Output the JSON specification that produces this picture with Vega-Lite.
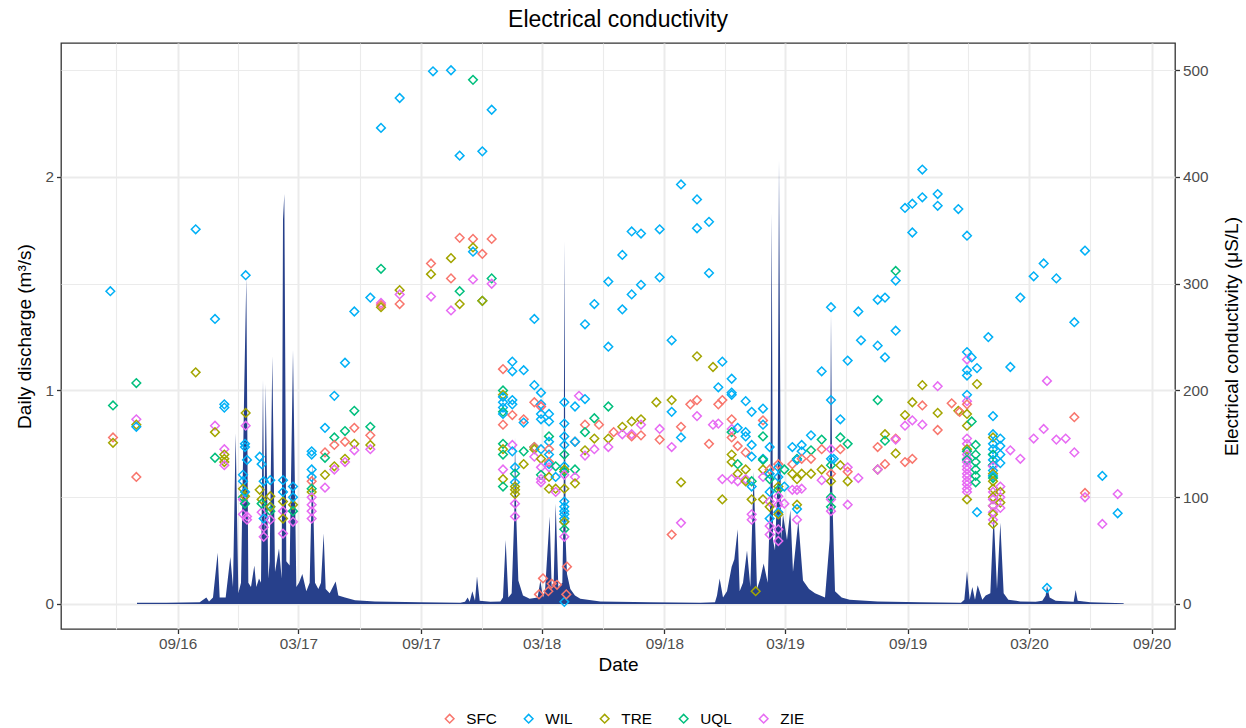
{
"$schema": "https://vega.github.io/schema/vega-lite/v6.json",
"width": 1114, "height": 586,
"autosize": {"type": "none"},
"padding": {"left": 61, "top": 43, "right": 71, "bottom": 99},
"background": "white",
"title": {"text": "Electrical conductivity", "fontSize": 23, "fontWeight": "normal", "anchor": "middle", "offset": 11, "color": "#000000"},
"config": {
 "font": "Liberation Sans",
 "view": {"stroke": "#333333", "strokeWidth": 1.3},
 "axis": {"domain": false, "tickColor": "#333333", "tickSize": 4.5, "tickWidth": 1.3, "labelFontSize": 15.3, "labelColor": "#4D4D4D", "titleFontSize": 19, "titleFontWeight": "normal", "titleColor": "#000000", "gridColor": "#EBEBEB", "labelFlush": false, "labelOverlap": false}
},
"datasets": {
"flow": [
{"d":"2016-07-02","q":0.006},{"d":"2016-08-15","q":0.006},{"d":"2016-10-04","q":0.008},{"d":"2016-10-14","q":0.03},{"d":"2016-10-18","q":0.012},{"d":"2016-10-24","q":0.03},{"d":"2016-10-31","q":0.24},{"d":"2016-11-03","q":0.03},{"d":"2016-11-12","q":0.03},{"d":"2016-11-19","q":0.22},{"d":"2016-11-23","q":0.08},{"d":"2016-11-27","q":0.80},{"d":"2016-12-01","q":0.05},{"d":"2016-12-05","q":0.10},{"d":"2016-12-10","q":1.04},{"d":"2016-12-13","q":1.53},{"d":"2016-12-16","q":0.10},{"d":"2016-12-20","q":0.08},{"d":"2016-12-25","q":0.18},{"d":"2016-12-28","q":0.08},
{"d":"2017-01-01","q":0.12},{"d":"2017-01-04","q":0.10},{"d":"2017-01-07","q":1.05},{"d":"2017-01-09","q":0.30},{"d":"2017-01-11","q":1.03},{"d":"2017-01-15","q":0.12},{"d":"2017-01-17","q":0.20},{"d":"2017-01-21","q":1.16},{"d":"2017-01-25","q":0.15},{"d":"2017-01-31","q":0.26},{"d":"2017-02-04","q":0.12},{"d":"2017-02-06","q":1.80},{"d":"2017-02-08","q":1.92},{"d":"2017-02-11","q":0.20},{"d":"2017-02-16","q":0.18},{"d":"2017-02-21","q":1.19},{"d":"2017-02-26","q":0.08},{"d":"2017-03-02","q":0.10},{"d":"2017-03-07","q":0.14},{"d":"2017-03-13","q":0.06},{"d":"2017-03-18","q":0.10},{"d":"2017-03-22","q":0.66},{"d":"2017-03-26","q":0.10},{"d":"2017-03-31","q":0.07},{"d":"2017-04-04","q":0.10},{"d":"2017-04-08","q":0.33},{"d":"2017-04-11","q":0.07},{"d":"2017-04-17","q":0.05},{"d":"2017-04-26","q":0.105},{"d":"2017-04-30","q":0.04},{"d":"2017-05-10","q":0.03},{"d":"2017-05-25","q":0.018},{"d":"2017-06-24","q":0.012},{"d":"2017-08-31","q":0.008},{"d":"2017-10-30","q":0.006},{"d":"2017-11-06","q":0.01},{"d":"2017-11-10","q":0.03},{"d":"2017-11-13","q":0.01},{"d":"2017-11-17","q":0.06},{"d":"2017-11-21","q":0.015},{"d":"2017-11-24","q":0.13},{"d":"2017-11-28","q":0.015},{"d":"2017-12-14","q":0.01},{"d":"2017-12-29","q":0.012},
{"d":"2018-01-02","q":0.03},{"d":"2018-01-06","q":0.30},{"d":"2018-01-10","q":0.03},{"d":"2018-01-15","q":0.05},{"d":"2018-01-19","q":0.42},{"d":"2018-01-20","q":0.78},{"d":"2018-01-22","q":0.40},{"d":"2018-01-25","q":0.11},{"d":"2018-02-01","q":0.04},{"d":"2018-02-11","q":0.025},{"d":"2018-02-23","q":0.03},{"d":"2018-02-27","q":0.11},{"d":"2018-03-03","q":0.03},{"d":"2018-03-06","q":0.06},{"d":"2018-03-13","q":0.41},{"d":"2018-03-16","q":0.08},{"d":"2018-03-19","q":0.10},{"d":"2018-03-22","q":0.47},{"d":"2018-03-26","q":0.08},{"d":"2018-04-01","q":0.10},{"d":"2018-04-03","q":0.45},{"d":"2018-04-04","q":1.70},{"d":"2018-04-06","q":0.30},{"d":"2018-04-08","q":0.14},{"d":"2018-04-13","q":0.07},{"d":"2018-04-20","q":0.04},{"d":"2018-04-28","q":0.025},{"d":"2018-05-28","q":0.012},{"d":"2018-08-11","q":0.008},{"d":"2018-10-25","q":0.006},{"d":"2018-11-16","q":0.008},{"d":"2018-11-19","q":0.04},{"d":"2018-11-23","q":0.12},{"d":"2018-11-28","q":0.03},{"d":"2018-12-04","q":0.06},{"d":"2018-12-11","q":0.175},{"d":"2018-12-15","q":0.21},{"d":"2018-12-20","q":0.35},{"d":"2018-12-23","q":0.06},{"d":"2018-12-28","q":0.10},
{"d":"2019-01-03","q":0.25},{"d":"2019-01-08","q":0.08},{"d":"2019-01-13","q":0.62},{"d":"2019-01-18","q":0.07},{"d":"2019-01-23","q":0.12},{"d":"2019-01-28","q":0.19},{"d":"2019-02-03","q":0.10},{"d":"2019-02-07","q":0.50},{"d":"2019-02-09","q":1.83},{"d":"2019-02-11","q":0.30},{"d":"2019-02-14","q":0.25},{"d":"2019-02-18","q":0.60},{"d":"2019-02-20","q":2.08},{"d":"2019-02-23","q":0.30},{"d":"2019-02-26","q":0.42},{"d":"2019-03-04","q":0.30},{"d":"2019-03-09","q":0.44},{"d":"2019-03-13","q":0.15},{"d":"2019-03-21","q":0.39},{"d":"2019-03-28","q":0.11},{"d":"2019-04-06","q":0.07},{"d":"2019-04-15","q":0.05},{"d":"2019-04-30","q":0.03},{"d":"2019-05-07","q":0.30},{"d":"2019-05-09","q":1.36},{"d":"2019-05-11","q":0.50},{"d":"2019-05-15","q":0.06},{"d":"2019-05-25","q":0.03},{"d":"2019-06-06","q":0.02},{"d":"2019-07-18","q":0.012},{"d":"2019-09-20","q":0.008},{"d":"2019-11-20","q":0.006},{"d":"2019-11-25","q":0.02},{"d":"2019-11-29","q":0.155},{"d":"2019-12-03","q":0.02},{"d":"2019-12-07","q":0.08},{"d":"2019-12-11","q":0.02},{"d":"2019-12-15","q":0.088},{"d":"2019-12-22","q":0.02},{"d":"2019-12-27","q":0.04},
{"d":"2020-01-03","q":0.05},{"d":"2020-01-08","q":0.42},{"d":"2020-01-13","q":0.07},{"d":"2020-01-18","q":0.38},{"d":"2020-01-23","q":0.05},{"d":"2020-01-30","q":0.02},{"d":"2020-02-17","q":0.012},{"d":"2020-03-11","q":0.01},{"d":"2020-03-21","q":0.015},{"d":"2020-03-26","q":0.04},{"d":"2020-03-28","q":0.085},{"d":"2020-04-01","q":0.03},{"d":"2020-04-10","q":0.015},{"d":"2020-05-07","q":0.01},{"d":"2020-05-10","q":0.065},{"d":"2020-05-13","q":0.015},{"d":"2020-06-01","q":0.008},{"d":"2020-07-21","q":0.004}
],
"ec": [
{"d":"2016-05-23","s":"WIL","v":293},{"d":"2016-05-27","s":"UQL","v":186},{"d":"2016-05-27","s":"SFC","v":156},{"d":"2016-05-27","s":"TRE","v":151},
{"d":"2016-07-01","s":"UQL","v":207},{"d":"2016-07-01","s":"ZIE","v":173},{"d":"2016-07-01","s":"TRE","v":168},{"d":"2016-07-01","s":"WIL","v":166},{"d":"2016-07-01","s":"SFC","v":119},
{"d":"2016-09-28","s":"WIL","v":351},{"d":"2016-09-28","s":"TRE","v":217},
{"d":"2016-10-27","s":"WIL","v":267},{"d":"2016-10-27","s":"ZIE","v":167},{"d":"2016-10-27","s":"TRE","v":161},{"d":"2016-10-27","s":"UQL","v":137},
{"d":"2016-11-10","s":"WIL","v":187},{"d":"2016-11-10","s":"WIL","v":184},{"d":"2016-11-10","s":"ZIE","v":145},{"d":"2016-11-10","s":"TRE","v":140},{"d":"2016-11-10","s":"TRE","v":136},{"d":"2016-11-10","s":"TRE","v":133},{"d":"2016-11-10","s":"ZIE","v":130},
{"d":"2016-12-08","s":"WIL","v":121},{"d":"2016-12-08","s":"WIL","v":115},{"d":"2016-12-08","s":"TRE","v":108},{"d":"2016-12-08","s":"UQL","v":100},{"d":"2016-12-08","s":"ZIE","v":98},{"d":"2016-12-08","s":"ZIE","v":84},
{"d":"2016-12-11","s":"WIL","v":150},{"d":"2016-12-11","s":"WIL","v":147},{"d":"2016-12-11","s":"TRE","v":101},{"d":"2016-12-11","s":"UQL","v":94},{"d":"2016-12-11","s":"WIL","v":105},
{"d":"2016-12-12","s":"WIL","v":308},{"d":"2016-12-12","s":"TRE","v":179},{"d":"2016-12-12","s":"ZIE","v":167},
{"d":"2016-12-14","s":"WIL","v":135},{"d":"2016-12-14","s":"ZIE","v":82},{"d":"2016-12-14","s":"ZIE","v":79},
{"d":"2017-01-02","s":"WIL","v":138},{"d":"2017-01-02","s":"TRE","v":107},
{"d":"2017-01-05","s":"WIL","v":131},{"d":"2017-01-05","s":"ZIE","v":86},{"d":"2017-01-05","s":"TRE","v":98},{"d":"2017-01-05","s":"UQL","v":94},
{"d":"2017-01-08","s":"WIL","v":115},{"d":"2017-01-08","s":"ZIE","v":72},{"d":"2017-01-08","s":"ZIE","v":63},{"d":"2017-01-08","s":"WIL","v":80},
{"d":"2017-01-18","s":"TRE","v":101},{"d":"2017-01-18","s":"UQL","v":87},{"d":"2017-01-18","s":"WIL","v":91},{"d":"2017-01-18","s":"WIL","v":116},{"d":"2017-01-18","s":"TRE","v":91},{"d":"2017-01-18","s":"ZIE","v":79},
{"d":"2017-02-06","s":"WIL","v":116},{"d":"2017-02-06","s":"TRE","v":96},{"d":"2017-02-06","s":"ZIE","v":87},{"d":"2017-02-06","s":"ZIE","v":66},{"d":"2017-02-06","s":"WIL","v":105},{"d":"2017-02-06","s":"TRE","v":80},
{"d":"2017-02-21","s":"WIL","v":110},{"d":"2017-02-21","s":"TRE","v":93},{"d":"2017-02-21","s":"UQL","v":87},{"d":"2017-02-21","s":"ZIE","v":77},{"d":"2017-02-21","s":"WIL","v":100},
{"d":"2017-03-21","s":"WIL","v":143},{"d":"2017-03-21","s":"WIL","v":140},{"d":"2017-03-21","s":"WIL","v":126},{"d":"2017-03-21","s":"WIL","v":119},{"d":"2017-03-21","s":"SFC","v":115},{"d":"2017-03-21","s":"UQL","v":108},{"d":"2017-03-21","s":"TRE","v":105},{"d":"2017-03-21","s":"ZIE","v":100},{"d":"2017-03-21","s":"ZIE","v":93},{"d":"2017-03-21","s":"ZIE","v":87},{"d":"2017-03-21","s":"ZIE","v":80},
{"d":"2017-04-10","s":"WIL","v":165},{"d":"2017-04-10","s":"SFC","v":142},{"d":"2017-04-10","s":"UQL","v":137},{"d":"2017-04-10","s":"TRE","v":121},{"d":"2017-04-10","s":"ZIE","v":109},
{"d":"2017-04-24","s":"WIL","v":195},{"d":"2017-04-24","s":"UQL","v":156},{"d":"2017-04-24","s":"SFC","v":149},{"d":"2017-04-24","s":"TRE","v":129},{"d":"2017-04-24","s":"ZIE","v":126},
{"d":"2017-05-10","s":"WIL","v":226},{"d":"2017-05-10","s":"UQL","v":162},{"d":"2017-05-10","s":"SFC","v":152},{"d":"2017-05-10","s":"TRE","v":136},{"d":"2017-05-10","s":"ZIE","v":133},
{"d":"2017-05-24","s":"WIL","v":274},{"d":"2017-05-24","s":"UQL","v":181},{"d":"2017-05-24","s":"SFC","v":165},{"d":"2017-05-24","s":"TRE","v":150},{"d":"2017-05-24","s":"ZIE","v":144},
{"d":"2017-06-17","s":"WIL","v":287},{"d":"2017-06-17","s":"UQL","v":166},{"d":"2017-06-17","s":"SFC","v":158},{"d":"2017-06-17","s":"TRE","v":149},{"d":"2017-06-17","s":"ZIE","v":145},
{"d":"2017-07-03","s":"WIL","v":446},{"d":"2017-07-03","s":"UQL","v":314},{"d":"2017-07-03","s":"ZIE","v":282},{"d":"2017-07-03","s":"SFC","v":280},{"d":"2017-07-03","s":"TRE","v":278},
{"d":"2017-07-31","s":"WIL","v":474},{"d":"2017-07-31","s":"TRE","v":294},{"d":"2017-07-31","s":"ZIE","v":290},{"d":"2017-07-31","s":"SFC","v":281},
{"d":"2017-09-16","s":"SFC","v":319},{"d":"2017-09-16","s":"TRE","v":309},{"d":"2017-09-16","s":"ZIE","v":288},{"d":"2017-09-19","s":"WIL","v":499},
{"d":"2017-10-16","s":"WIL","v":500},{"d":"2017-10-16","s":"TRE","v":324},{"d":"2017-10-16","s":"SFC","v":305},{"d":"2017-10-16","s":"ZIE","v":275},
{"d":"2017-10-29","s":"WIL","v":420},{"d":"2017-10-29","s":"SFC","v":343},{"d":"2017-10-29","s":"UQL","v":293},{"d":"2017-10-29","s":"TRE","v":281},
{"d":"2017-11-18","s":"UQL","v":491},{"d":"2017-11-18","s":"SFC","v":342},{"d":"2017-11-18","s":"TRE","v":334},{"d":"2017-11-18","s":"WIL","v":330},{"d":"2017-11-18","s":"ZIE","v":304},
{"d":"2017-12-02","s":"WIL","v":424},{"d":"2017-12-02","s":"SFC","v":328},{"d":"2017-12-02","s":"UQL","v":284},{"d":"2017-12-02","s":"TRE","v":284},
{"d":"2017-12-16","s":"WIL","v":463},{"d":"2017-12-16","s":"SFC","v":342},{"d":"2017-12-16","s":"UQL","v":305},{"d":"2017-12-16","s":"ZIE","v":300},
{"d":"2018-01-02","s":"SFC","v":220},{"d":"2018-01-02","s":"UQL","v":200},{"d":"2018-01-02","s":"TRE","v":196},{"d":"2018-01-02","s":"WIL","v":194},{"d":"2018-01-02","s":"WIL","v":189},{"d":"2018-01-02","s":"WIL","v":184},{"d":"2018-01-02","s":"UQL","v":180},{"d":"2018-01-02","s":"WIL","v":178},{"d":"2018-01-02","s":"SFC","v":168},{"d":"2018-01-02","s":"UQL","v":150},{"d":"2018-01-02","s":"TRE","v":145},{"d":"2018-01-02","s":"UQL","v":140},{"d":"2018-01-02","s":"ZIE","v":126},{"d":"2018-01-02","s":"TRE","v":117},{"d":"2018-01-02","s":"UQL","v":110},
{"d":"2018-01-16","s":"WIL","v":227},{"d":"2018-01-16","s":"WIL","v":218},{"d":"2018-01-16","s":"WIL","v":191},{"d":"2018-01-16","s":"WIL","v":187},{"d":"2018-01-16","s":"SFC","v":177},{"d":"2018-01-16","s":"ZIE","v":149},{"d":"2018-01-16","s":"WIL","v":143},
{"d":"2018-01-20","s":"WIL","v":128},{"d":"2018-01-20","s":"UQL","v":122},{"d":"2018-01-20","s":"WIL","v":114},{"d":"2018-01-20","s":"TRE","v":110},{"d":"2018-01-20","s":"TRE","v":107},{"d":"2018-01-20","s":"TRE","v":103},{"d":"2018-01-20","s":"ZIE","v":94},{"d":"2018-01-20","s":"ZIE","v":82},
{"d":"2018-02-02","s":"WIL","v":219},{"d":"2018-02-02","s":"SFC","v":173},{"d":"2018-02-02","s":"WIL","v":170},{"d":"2018-02-02","s":"UQL","v":143},{"d":"2018-02-02","s":"TRE","v":131},
{"d":"2018-02-18","s":"WIL","v":267},{"d":"2018-02-18","s":"WIL","v":205},{"d":"2018-02-18","s":"SFC","v":189},{"d":"2018-02-18","s":"UQL","v":147},{"d":"2018-02-18","s":"SFC","v":147},{"d":"2018-02-18","s":"TRE","v":145},{"d":"2018-02-18","s":"ZIE","v":138},
{"d":"2018-02-25","s":"SFC","v":9},
{"d":"2018-02-28","s":"WIL","v":198},{"d":"2018-02-28","s":"WIL","v":187},{"d":"2018-02-28","s":"ZIE","v":185},{"d":"2018-02-28","s":"SFC","v":185},{"d":"2018-02-28","s":"WIL","v":178},{"d":"2018-02-28","s":"WIL","v":173},{"d":"2018-02-28","s":"WIL","v":145},{"d":"2018-02-28","s":"TRE","v":136},{"d":"2018-02-28","s":"ZIE","v":128},{"d":"2018-02-28","s":"UQL","v":121},{"d":"2018-02-28","s":"ZIE","v":117},{"d":"2018-02-28","s":"ZIE","v":114},
{"d":"2018-03-03","s":"SFC","v":24},{"d":"2018-03-11","s":"SFC","v":12},
{"d":"2018-03-12","s":"WIL","v":178},{"d":"2018-03-12","s":"WIL","v":171},{"d":"2018-03-12","s":"UQL","v":157},{"d":"2018-03-12","s":"WIL","v":152},{"d":"2018-03-12","s":"SFC","v":145},{"d":"2018-03-12","s":"WIL","v":140},{"d":"2018-03-12","s":"SFC","v":133},{"d":"2018-03-12","s":"WIL","v":131},{"d":"2018-03-12","s":"ZIE","v":128},{"d":"2018-03-12","s":"TRE","v":119},{"d":"2018-03-12","s":"TRE","v":108},
{"d":"2018-03-16","s":"SFC","v":19},
{"d":"2018-03-22","s":"UQL","v":129},{"d":"2018-03-22","s":"WIL","v":119},{"d":"2018-03-22","s":"TRE","v":108},{"d":"2018-03-22","s":"ZIE","v":105},
{"d":"2018-03-24","s":"SFC","v":18},
{"d":"2018-04-04","s":"WIL","v":189},{"d":"2018-04-04","s":"WIL","v":169},{"d":"2018-04-04","s":"WIL","v":157},{"d":"2018-04-04","s":"WIL","v":149},{"d":"2018-04-04","s":"UQL","v":140},{"d":"2018-04-04","s":"WIL","v":129},{"d":"2018-04-04","s":"TRE","v":126},{"d":"2018-04-04","s":"UQL","v":124},{"d":"2018-04-04","s":"ZIE","v":121},{"d":"2018-04-04","s":"TRE","v":108},{"d":"2018-04-04","s":"WIL","v":96},{"d":"2018-04-04","s":"WIL","v":91},{"d":"2018-04-04","s":"WIL","v":87},{"d":"2018-04-04","s":"WIL","v":84},{"d":"2018-04-04","s":"WIL","v":80},{"d":"2018-04-04","s":"WIL","v":77},{"d":"2018-04-04","s":"TRE","v":77},{"d":"2018-04-04","s":"UQL","v":70},{"d":"2018-04-04","s":"ZIE","v":63},{"d":"2018-04-04","s":"WIL","v":2},
{"d":"2018-04-07","s":"SFC","v":9},{"d":"2018-04-08","s":"SFC","v":35},
{"d":"2018-04-20","s":"WIL","v":185},{"d":"2018-04-20","s":"SFC","v":152},{"d":"2018-04-20","s":"WIL","v":152},{"d":"2018-04-20","s":"UQL","v":126},{"d":"2018-04-20","s":"ZIE","v":119},{"d":"2018-04-20","s":"TRE","v":113},
{"d":"2018-04-26","s":"ZIE","v":195},
{"d":"2018-05-05","s":"WIL","v":262},{"d":"2018-05-05","s":"WIL","v":192},{"d":"2018-05-05","s":"SFC","v":168},{"d":"2018-05-05","s":"UQL","v":161},{"d":"2018-05-05","s":"TRE","v":144},{"d":"2018-05-05","s":"ZIE","v":139},
{"d":"2018-05-19","s":"WIL","v":281},{"d":"2018-05-19","s":"UQL","v":174},{"d":"2018-05-19","s":"TRE","v":155},{"d":"2018-05-19","s":"ZIE","v":145},{"d":"2018-05-26","s":"SFC","v":168},
{"d":"2018-06-09","s":"WIL","v":302},{"d":"2018-06-09","s":"WIL","v":241},{"d":"2018-06-09","s":"UQL","v":185},{"d":"2018-06-09","s":"TRE","v":155},{"d":"2018-06-09","s":"ZIE","v":147},{"d":"2018-06-17","s":"SFC","v":161},
{"d":"2018-06-30","s":"WIL","v":327},{"d":"2018-06-30","s":"WIL","v":276},{"d":"2018-06-30","s":"TRE","v":166},{"d":"2018-06-30","s":"ZIE","v":159},
{"d":"2018-07-14","s":"WIL","v":349},{"d":"2018-07-14","s":"WIL","v":290},{"d":"2018-07-14","s":"TRE","v":171},{"d":"2018-07-14","s":"ZIE","v":159},{"d":"2018-07-14","s":"SFC","v":157},
{"d":"2018-07-28","s":"WIL","v":347},{"d":"2018-07-28","s":"WIL","v":299},{"d":"2018-07-28","s":"TRE","v":173},{"d":"2018-07-28","s":"ZIE","v":168},{"d":"2018-07-28","s":"SFC","v":158},
{"d":"2018-08-20","s":"TRE","v":189},
{"d":"2018-08-25","s":"WIL","v":351},{"d":"2018-08-25","s":"WIL","v":306},{"d":"2018-08-25","s":"ZIE","v":164},{"d":"2018-08-25","s":"SFC","v":154},
{"d":"2018-09-12","s":"WIL","v":247},{"d":"2018-09-12","s":"TRE","v":191},{"d":"2018-09-12","s":"WIL","v":180},{"d":"2018-09-12","s":"ZIE","v":147},{"d":"2018-09-12","s":"SFC","v":65},
{"d":"2018-09-26","s":"WIL","v":393},{"d":"2018-09-26","s":"SFC","v":166},{"d":"2018-09-26","s":"WIL","v":156},{"d":"2018-09-26","s":"TRE","v":114},{"d":"2018-09-26","s":"ZIE","v":76},
{"d":"2018-10-10","s":"SFC","v":187},
{"d":"2018-10-20","s":"WIL","v":379},{"d":"2018-10-20","s":"WIL","v":352},{"d":"2018-10-20","s":"TRE","v":232},{"d":"2018-10-20","s":"SFC","v":191},{"d":"2018-10-20","s":"ZIE","v":176},
{"d":"2018-11-07","s":"WIL","v":358},{"d":"2018-11-07","s":"WIL","v":310},{"d":"2018-11-07","s":"SFC","v":150},
{"d":"2018-11-13","s":"TRE","v":222},{"d":"2018-11-13","s":"ZIE","v":168},
{"d":"2018-11-21","s":"WIL","v":203},{"d":"2018-11-21","s":"SFC","v":187},{"d":"2018-11-21","s":"ZIE","v":169},
{"d":"2018-11-27","s":"WIL","v":227},{"d":"2018-11-27","s":"SFC","v":191},{"d":"2018-11-27","s":"ZIE","v":117},{"d":"2018-11-27","s":"TRE","v":98},
{"d":"2018-12-11","s":"WIL","v":211},{"d":"2018-12-11","s":"WIL","v":198},{"d":"2018-12-11","s":"WIL","v":196},{"d":"2018-12-11","s":"SFC","v":173},{"d":"2018-12-11","s":"ZIE","v":164},{"d":"2018-12-11","s":"UQL","v":161},{"d":"2018-12-11","s":"SFC","v":156},{"d":"2018-12-11","s":"TRE","v":140},{"d":"2018-12-11","s":"TRE","v":133},{"d":"2018-12-11","s":"ZIE","v":117},
{"d":"2018-12-20","s":"WIL","v":165},{"d":"2018-12-20","s":"SFC","v":148},{"d":"2018-12-20","s":"UQL","v":131},{"d":"2018-12-20","s":"TRE","v":122},{"d":"2018-12-20","s":"ZIE","v":115},
{"d":"2019-01-01","s":"WIL","v":190},{"d":"2019-01-01","s":"WIL","v":161},{"d":"2019-01-01","s":"WIL","v":157},{"d":"2019-01-01","s":"SFC","v":142},{"d":"2019-01-01","s":"TRE","v":126},{"d":"2019-01-01","s":"ZIE","v":117},{"d":"2019-01-01","s":"TRE","v":115},
{"d":"2019-01-10","s":"WIL","v":180},{"d":"2019-01-10","s":"WIL","v":149},{"d":"2019-01-10","s":"WIL","v":138},{"d":"2019-01-10","s":"UQL","v":115},{"d":"2019-01-10","s":"WIL","v":110},{"d":"2019-01-10","s":"TRE","v":98},{"d":"2019-01-10","s":"ZIE","v":84},{"d":"2019-01-10","s":"ZIE","v":79},
{"d":"2019-01-16","s":"TRE","v":12},
{"d":"2019-01-27","s":"WIL","v":183},{"d":"2019-01-27","s":"SFC","v":172},{"d":"2019-01-27","s":"WIL","v":168},{"d":"2019-01-27","s":"UQL","v":157},{"d":"2019-01-27","s":"WIL","v":136},{"d":"2019-01-27","s":"UQL","v":135},{"d":"2019-01-27","s":"TRE","v":126},{"d":"2019-01-27","s":"ZIE","v":119},{"d":"2019-01-27","s":"TRE","v":98},
{"d":"2019-02-06","s":"WIL","v":147},{"d":"2019-02-06","s":"SFC","v":126},{"d":"2019-02-06","s":"WIL","v":122},{"d":"2019-02-06","s":"UQL","v":117},{"d":"2019-02-06","s":"WIL","v":105},{"d":"2019-02-06","s":"ZIE","v":96},{"d":"2019-02-06","s":"TRE","v":91},{"d":"2019-02-06","s":"WIL","v":80},{"d":"2019-02-06","s":"ZIE","v":73},{"d":"2019-02-06","s":"ZIE","v":65},
{"d":"2019-02-19","s":"SFC","v":131},{"d":"2019-02-19","s":"WIL","v":128},{"d":"2019-02-19","s":"WIL","v":119},{"d":"2019-02-19","s":"TRE","v":110},{"d":"2019-02-19","s":"UQL","v":107},{"d":"2019-02-19","s":"ZIE","v":101},{"d":"2019-02-19","s":"ZIE","v":93},{"d":"2019-02-19","s":"WIL","v":86},{"d":"2019-02-19","s":"TRE","v":84},{"d":"2019-02-19","s":"ZIE","v":70},{"d":"2019-02-19","s":"ZIE","v":59},
{"d":"2019-02-28","s":"UQL","v":126},{"d":"2019-02-28","s":"WIL","v":110},{"d":"2019-02-28","s":"ZIE","v":94},
{"d":"2019-03-12","s":"WIL","v":147},{"d":"2019-03-12","s":"SFC","v":131},{"d":"2019-03-12","s":"TRE","v":122},{"d":"2019-03-12","s":"ZIE","v":107},
{"d":"2019-03-19","s":"UQL","v":136},{"d":"2019-03-19","s":"WIL","v":135},{"d":"2019-03-19","s":"TRE","v":117},{"d":"2019-03-19","s":"ZIE","v":107},{"d":"2019-03-19","s":"TRE","v":93},{"d":"2019-03-19","s":"WIL","v":89},{"d":"2019-03-19","s":"ZIE","v":79},
{"d":"2019-03-26","s":"WIL","v":149},{"d":"2019-03-26","s":"WIL","v":143},{"d":"2019-03-26","s":"SFC","v":136},{"d":"2019-03-26","s":"TRE","v":122},{"d":"2019-03-26","s":"ZIE","v":108},
{"d":"2019-04-09","s":"WIL","v":158},{"d":"2019-04-09","s":"UQL","v":144},{"d":"2019-04-09","s":"SFC","v":136},{"d":"2019-04-09","s":"TRE","v":122},
{"d":"2019-04-25","s":"WIL","v":218},{"d":"2019-04-25","s":"UQL","v":154},{"d":"2019-04-25","s":"SFC","v":145},{"d":"2019-04-25","s":"TRE","v":126},{"d":"2019-04-25","s":"ZIE","v":116},
{"d":"2019-05-09","s":"WIL","v":278},{"d":"2019-05-09","s":"WIL","v":191},{"d":"2019-05-09","s":"ZIE","v":145},{"d":"2019-05-09","s":"WIL","v":136},{"d":"2019-05-09","s":"UQL","v":130},{"d":"2019-05-09","s":"SFC","v":122},{"d":"2019-05-09","s":"TRE","v":115},{"d":"2019-05-09","s":"UQL","v":100},{"d":"2019-05-09","s":"ZIE","v":98},{"d":"2019-05-09","s":"UQL","v":91},{"d":"2019-05-09","s":"ZIE","v":87},
{"d":"2019-05-13","s":"WIL","v":136},
{"d":"2019-05-23","s":"WIL","v":173},{"d":"2019-05-23","s":"UQL","v":156},{"d":"2019-05-23","s":"SFC","v":145},{"d":"2019-05-23","s":"TRE","v":130},
{"d":"2019-06-03","s":"WIL","v":228},{"d":"2019-06-03","s":"UQL","v":150},{"d":"2019-06-03","s":"ZIE","v":128},{"d":"2019-06-03","s":"SFC","v":124},{"d":"2019-06-03","s":"TRE","v":115},{"d":"2019-06-03","s":"ZIE","v":93},
{"d":"2019-06-19","s":"WIL","v":274},{"d":"2019-06-19","s":"ZIE","v":118},{"d":"2019-06-23","s":"WIL","v":247},
{"d":"2019-07-18","s":"WIL","v":285},{"d":"2019-07-18","s":"WIL","v":242},{"d":"2019-07-18","s":"UQL","v":191},{"d":"2019-07-18","s":"SFC","v":147},{"d":"2019-07-18","s":"TRE","v":126},{"d":"2019-07-18","s":"ZIE","v":126},
{"d":"2019-07-29","s":"WIL","v":287},{"d":"2019-07-29","s":"WIL","v":231},{"d":"2019-07-29","s":"TRE","v":159},{"d":"2019-07-29","s":"UQL","v":153},{"d":"2019-07-29","s":"SFC","v":131},
{"d":"2019-08-14","s":"UQL","v":312},{"d":"2019-08-14","s":"WIL","v":303},{"d":"2019-08-14","s":"WIL","v":256},{"d":"2019-08-14","s":"SFC","v":155},{"d":"2019-08-14","s":"ZIE","v":154},{"d":"2019-08-14","s":"TRE","v":141},
{"d":"2019-08-28","s":"WIL","v":371},{"d":"2019-08-28","s":"TRE","v":177},{"d":"2019-08-28","s":"ZIE","v":167},{"d":"2019-08-28","s":"SFC","v":133},
{"d":"2019-09-08","s":"WIL","v":375},{"d":"2019-09-08","s":"WIL","v":348},{"d":"2019-09-08","s":"TRE","v":189},{"d":"2019-09-08","s":"ZIE","v":172},{"d":"2019-09-08","s":"SFC","v":136},
{"d":"2019-09-23","s":"WIL","v":407},{"d":"2019-09-23","s":"WIL","v":381},{"d":"2019-09-23","s":"TRE","v":205},{"d":"2019-09-23","s":"SFC","v":186},{"d":"2019-09-23","s":"ZIE","v":168},
{"d":"2019-10-16","s":"WIL","v":384},{"d":"2019-10-16","s":"WIL","v":373},{"d":"2019-10-16","s":"ZIE","v":204},{"d":"2019-10-16","s":"TRE","v":179},{"d":"2019-10-16","s":"SFC","v":163},
{"d":"2019-11-06","s":"SFC","v":188},{"d":"2019-11-16","s":"WIL","v":370},{"d":"2019-11-16","s":"TRE","v":181},{"d":"2019-11-18","s":"SFC","v":180},
{"d":"2019-11-29","s":"WIL","v":345},{"d":"2019-11-29","s":"WIL","v":236},{"d":"2019-11-29","s":"ZIE","v":229},{"d":"2019-11-29","s":"WIL","v":219},{"d":"2019-11-29","s":"WIL","v":214},{"d":"2019-11-29","s":"WIL","v":196},{"d":"2019-11-29","s":"ZIE","v":190},{"d":"2019-11-29","s":"SFC","v":187},{"d":"2019-11-29","s":"TRE","v":178},{"d":"2019-11-29","s":"TRE","v":167},{"d":"2019-11-29","s":"ZIE","v":155},{"d":"2019-11-29","s":"ZIE","v":150},{"d":"2019-11-29","s":"TRE","v":145},{"d":"2019-11-29","s":"UQL","v":143},{"d":"2019-11-29","s":"ZIE","v":140},{"d":"2019-11-29","s":"ZIE","v":136},{"d":"2019-11-29","s":"UQL","v":135},{"d":"2019-11-29","s":"ZIE","v":133},{"d":"2019-11-29","s":"ZIE","v":129},{"d":"2019-11-29","s":"ZIE","v":126},{"d":"2019-11-29","s":"ZIE","v":122},{"d":"2019-11-29","s":"ZIE","v":119},{"d":"2019-11-29","s":"ZIE","v":115},{"d":"2019-11-29","s":"ZIE","v":112},{"d":"2019-11-29","s":"ZIE","v":108},{"d":"2019-11-29","s":"ZIE","v":105},{"d":"2019-11-29","s":"TRE","v":98},
{"d":"2019-12-06","s":"WIL","v":231},{"d":"2019-12-06","s":"UQL","v":171},
{"d":"2019-12-12","s":"UQL","v":149},{"d":"2019-12-12","s":"UQL","v":140},{"d":"2019-12-12","s":"UQL","v":133},{"d":"2019-12-12","s":"UQL","v":126},{"d":"2019-12-12","s":"UQL","v":120},{"d":"2019-12-12","s":"UQL","v":114},
{"d":"2019-12-14","s":"WIL","v":221},{"d":"2019-12-14","s":"TRE","v":206},{"d":"2019-12-14","s":"WIL","v":86},
{"d":"2019-12-31","s":"WIL","v":250},
{"d":"2020-01-07","s":"WIL","v":176},{"d":"2020-01-07","s":"WIL","v":159},{"d":"2020-01-07","s":"TRE","v":156},{"d":"2020-01-07","s":"WIL","v":150},{"d":"2020-01-07","s":"WIL","v":145},{"d":"2020-01-07","s":"WIL","v":140},{"d":"2020-01-07","s":"UQL","v":140},{"d":"2020-01-07","s":"WIL","v":135},{"d":"2020-01-07","s":"WIL","v":130},{"d":"2020-01-07","s":"UQL","v":130},{"d":"2020-01-07","s":"ZIE","v":129},{"d":"2020-01-07","s":"WIL","v":125},{"d":"2020-01-07","s":"TRE","v":122},{"d":"2020-01-07","s":"WIL","v":120},{"d":"2020-01-07","s":"UQL","v":118},{"d":"2020-01-07","s":"TRE","v":115},{"d":"2020-01-07","s":"TRE","v":108},{"d":"2020-01-07","s":"ZIE","v":105},{"d":"2020-01-07","s":"TRE","v":100},{"d":"2020-01-07","s":"ZIE","v":98},{"d":"2020-01-07","s":"TRE","v":92},{"d":"2020-01-07","s":"ZIE","v":92},{"d":"2020-01-07","s":"ZIE","v":86},{"d":"2020-01-07","s":"TRE","v":84},{"d":"2020-01-07","s":"ZIE","v":79},{"d":"2020-01-07","s":"TRE","v":75},
{"d":"2020-01-18","s":"WIL","v":155},{"d":"2020-01-18","s":"WIL","v":148},{"d":"2020-01-18","s":"WIL","v":140},{"d":"2020-01-18","s":"WIL","v":132},{"d":"2020-01-18","s":"ZIE","v":110},{"d":"2020-01-18","s":"TRE","v":105},{"d":"2020-01-18","s":"ZIE","v":100},{"d":"2020-01-18","s":"TRE","v":95},{"d":"2020-01-18","s":"ZIE","v":90},
{"d":"2020-02-02","s":"WIL","v":222},{"d":"2020-02-02","s":"ZIE","v":144},
{"d":"2020-02-17","s":"WIL","v":287},{"d":"2020-02-17","s":"ZIE","v":136},
{"d":"2020-03-08","s":"WIL","v":307},{"d":"2020-03-08","s":"ZIE","v":155},
{"d":"2020-03-23","s":"WIL","v":319},{"d":"2020-03-23","s":"ZIE","v":164},
{"d":"2020-03-28","s":"ZIE","v":209},{"d":"2020-03-28","s":"WIL","v":15},
{"d":"2020-04-11","s":"WIL","v":305},{"d":"2020-04-11","s":"ZIE","v":154},
{"d":"2020-04-25","s":"ZIE","v":155},
{"d":"2020-05-08","s":"WIL","v":264},{"d":"2020-05-08","s":"SFC","v":175},{"d":"2020-05-08","s":"ZIE","v":142},
{"d":"2020-05-24","s":"WIL","v":331},{"d":"2020-05-24","s":"SFC","v":104},{"d":"2020-05-24","s":"ZIE","v":100},
{"d":"2020-06-19","s":"WIL","v":120},{"d":"2020-06-19","s":"ZIE","v":75},
{"d":"2020-07-12","s":"WIL","v":85},{"d":"2020-07-12","s":"ZIE","v":103}
]
},
"layer": [
{
 "data": {"name": "flow"},
 "mark": {"type": "area", "color": "#27408B", "interpolate": "linear"},
 "encoding": {
  "x": {"field": "d", "type": "temporal",
   "scale": {"type": "utc", "domain": [{"year": 2016, "month": 3, "date": 10, "utc": true}, {"year": 2020, "month": 10, "date": 6, "utc": true}]},
   "axis": {"title": "Date", "format": "%m/%y", "grid": true, "gridWidth": 2, "labelPadding": 3, "titlePadding": 4,
    "values": [{"year": 2016, "month": 9, "date": 1, "utc": true}, {"year": 2017, "month": 3, "date": 1, "utc": true}, {"year": 2017, "month": 9, "date": 1, "utc": true}, {"year": 2018, "month": 3, "date": 1, "utc": true}, {"year": 2018, "month": 9, "date": 1, "utc": true}, {"year": 2019, "month": 3, "date": 1, "utc": true}, {"year": 2019, "month": 9, "date": 1, "utc": true}, {"year": 2020, "month": 3, "date": 1, "utc": true}, {"year": 2020, "month": 9, "date": 1, "utc": true}]}},
  "y": {"field": "q", "type": "quantitative",
   "scale": {"domain": [-0.1171, 2.6276], "nice": false, "zero": false},
   "axis": {"title": "Daily discharge (m³/s)", "values": [0, 1, 2], "grid": true, "gridWidth": 2, "labelPadding": 3, "titlePadding": 10}},
  "y2": {"datum": 0}
 }
},
{
 "data": {"name": "ec"},
 "mark": {"type": "point", "shape": "diamond", "filled": false, "size": 75, "strokeWidth": 1.5, "opacity": 1},
 "encoding": {
  "x": {"field": "d", "type": "temporal",
   "scale": {"type": "utc", "domain": [{"year": 2016, "month": 3, "date": 10, "utc": true}, {"year": 2020, "month": 10, "date": 6, "utc": true}]},
   "axis": {"orient": "top", "title": null, "labels": false, "ticks": false, "grid": true, "gridWidth": 1.1,
    "values": [{"year": 2016, "month": 6, "date": 1, "utc": true}, {"year": 2016, "month": 12, "date": 1, "utc": true}, {"year": 2017, "month": 6, "date": 1, "utc": true}, {"year": 2017, "month": 12, "date": 1, "utc": true}, {"year": 2018, "month": 6, "date": 1, "utc": true}, {"year": 2018, "month": 12, "date": 1, "utc": true}, {"year": 2019, "month": 6, "date": 1, "utc": true}, {"year": 2019, "month": 12, "date": 1, "utc": true}, {"year": 2020, "month": 6, "date": 1, "utc": true}]}},
  "y": {"field": "v", "type": "quantitative",
   "scale": {"domain": [-23.42, 525.52], "nice": false, "zero": false},
   "axis": {"orient": "right", "title": "Electrical conductivity (μS/L)", "values": [0, 100, 200, 300, 400, 500], "grid": true, "gridWidth": 1.1, "labelPadding": 3, "titlePadding": 14, "titleAngle": 270, "titleBaseline": "top"}},
  "color": {"field": "s", "type": "nominal",
   "scale": {"domain": ["SFC", "WIL", "TRE", "UQL", "ZIE"], "range": ["#F8766D", "#00B0F6", "#A3A500", "#00BF7D", "#E76BF3"]},
   "legend": {"title": null, "orient": "none", "direction": "horizontal", "legendX": 381, "legendY": 668, "symbolType": "diamond", "symbolSize": 75, "symbolStrokeWidth": 1.5, "labelFontSize": 15.3, "labelColor": "#000000", "labelOffset": 9, "columnPadding": 24, "padding": 0}}
 }
}
],
"resolve": {"scale": {"x": "independent", "y": "independent"}}
}
